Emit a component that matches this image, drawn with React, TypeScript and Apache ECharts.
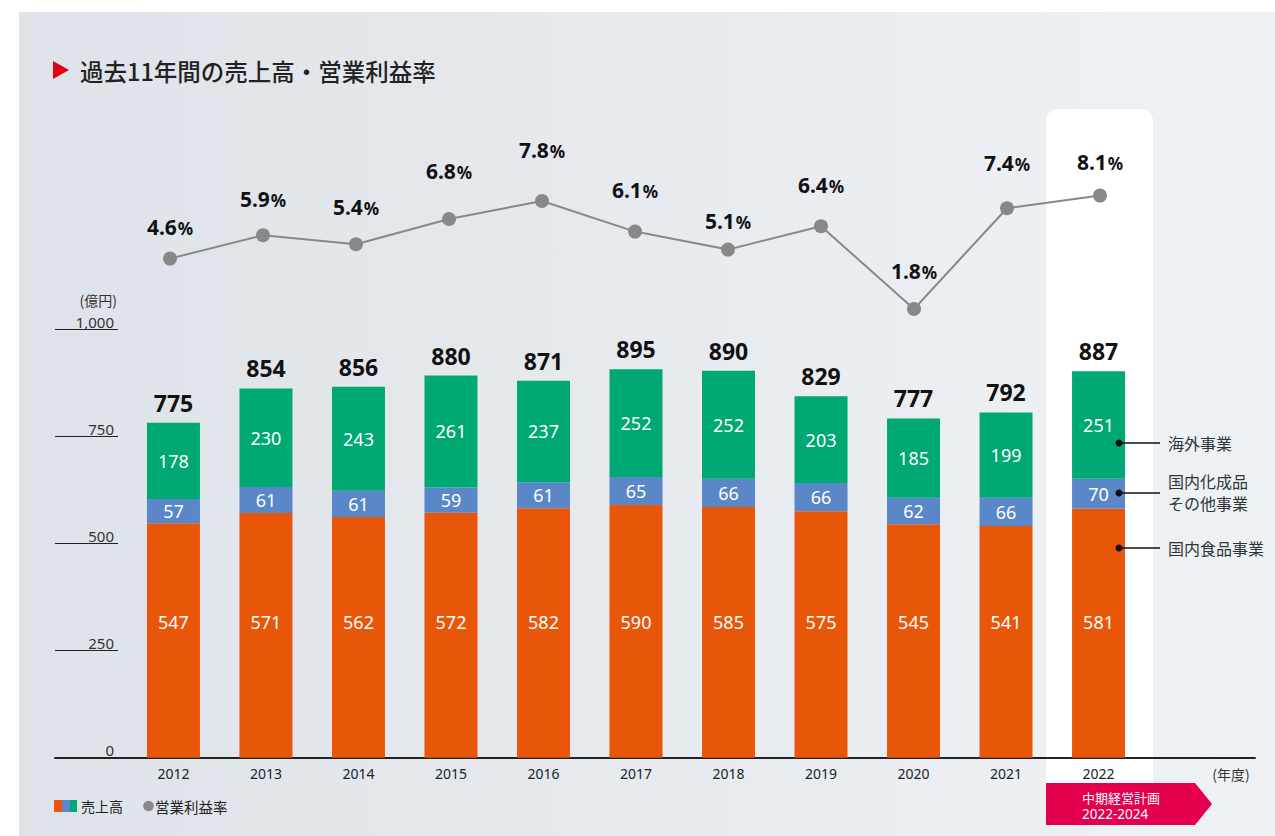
import React, { useEffect, useRef } from "react";
import * as echarts from "echarts";

// ---- data ----
const years = ["2012", "2013", "2014", "2015", "2016", "2017", "2018", "2019", "2020", "2021", "2022"];
const domesticFood = [547, 571, 562, 572, 582, 590, 585, 575, 545, 541, 581];
const chemicalsOther = [57, 61, 61, 59, 61, 65, 66, 66, 62, 66, 70];
const overseas = [178, 230, 243, 261, 237, 252, 252, 203, 185, 199, 251];
const totals = [775, 854, 856, 880, 871, 895, 890, 829, 777, 792, 887];
const operatingMargin = [4.6, 5.9, 5.4, 6.8, 7.8, 6.1, 5.1, 6.4, 1.8, 7.4, 8.1];
const yTickMax = 1000;
const yTickStep = 250;

// label lift (style) for the margin labels
const marginLabelLift = [14, 19, 20, 31, 34, 24, 11, 24, 21, 28, 16];

const ORANGE = "#E8560A";
const BLUE = "#5A87C7";
const GREEN = "#00A873";
const FONT = "'Noto Sans', 'Noto Sans CJK JP', sans-serif";
const JFONT = "'Noto Sans CJK JP', 'Noto Sans', sans-serif";

export default function App() {
  const ref = useRef<HTMLDivElement>(null);

  useEffect(() => {
    if (!ref.current) return;
    const chart = echarts.init(ref.current, undefined, { renderer: "svg" });
    const stackSums = years.map((_, i) => domesticFood[i] + chemicalsOther[i] + overseas[i]);

    const option: any = {
      animation: false,
      backgroundColor: "#ffffff",
      textStyle: { fontFamily: FONT },
      grid: [
        { left: 127.2, right: 130.2, top: 329.3, bottom: 78.3 },
        { left: 123.5, right: 128.5, top: 161.4, height: 180 },
        { left: 55, width: 63, top: 329.3, bottom: 78.3 },
        { left: 55, width: 1200, top: 329.3, bottom: 78.3 },
      ],
      xAxis: [
        {
          gridIndex: 0,
          type: "category",
          data: years,
          axisLine: { show: false },
          axisTick: { show: false },
          axisLabel: { color: "#222", fontSize: 14, margin: 9, fontFamily: FONT },
        },
        { gridIndex: 1, type: "category", data: years, show: false },
        { gridIndex: 2, type: "value", min: 0, max: 1, show: false },
        {
          gridIndex: 3,
          type: "value",
          min: 0,
          max: 1,
          axisLine: { show: true, onZero: false, lineStyle: { color: "#222", width: 2 } },
          axisTick: { show: false },
          axisLabel: { show: false },
          splitLine: { show: false },
        },
      ],
      yAxis: [
        { gridIndex: 0, type: "value", min: 0, max: yTickMax, interval: yTickStep, show: false },
        { gridIndex: 1, type: "value", min: 0, max: 10, show: false },
        {
          gridIndex: 2,
          type: "value",
          position: "right",
          min: 0,
          max: yTickMax,
          interval: yTickStep,
          axisLine: { show: false },
          axisTick: { show: false },
          axisLabel: {
            inside: true,
            align: "right",
            verticalAlign: "bottom",
            margin: 4,
            color: "#333",
            fontSize: 15,
            fontFamily: FONT,
            formatter: (v: number) => v.toLocaleString("en-US"),
          },
          splitLine: { show: true, lineStyle: { color: "#222", width: 1 } },
        },
        { gridIndex: 3, type: "value", min: 0, max: yTickMax, show: false },
      ],
      graphic: [
        {
          type: "rect",
          z: -100,
          shape: { x: 19, y: 12, width: 1256, height: 824 },
          style: {
            fill: new echarts.graphic.LinearGradient(0, 0, 1, 0, [
              { offset: 0, color: "#dee3e9" },
              { offset: 1, color: "#eff2f5" },
            ]),
          },
        },
        {
          type: "rect",
          z: -50,
          shape: { x: 1046, y: 109, width: 107, height: 680, r: [12, 12, 0, 0] },
          style: { fill: "#ffffff" },
        },
        // title
        {
          type: "polygon",
          shape: { points: [[53, 61], [69, 70], [53, 79]] },
          style: { fill: "#E60012" },
        },
        {
          type: "text",
          x: 80,
          y: 71,
          style: {
            text: "過去11年間の売上高・営業利益率",
            fontFamily: JFONT,
            fontSize: 23.5,
            fontWeight: 500,
            fill: "#222",
            verticalAlign: "middle",
          },
        },
        // unit label
        {
          type: "text",
          x: 117,
          y: 300,
          style: { text: "(億円)", fontFamily: JFONT, fontSize: 14, fill: "#333", align: "right", verticalAlign: "middle" },
        },
        // year unit
        {
          type: "text",
          x: 1231,
          y: 774,
          style: { text: "(年度)", fontFamily: JFONT, fontSize: 14, fill: "#333", align: "center", verticalAlign: "middle" },
        },
        // mid-term plan badge
        {
          type: "polygon",
          shape: { points: [[1046, 783], [1195, 783], [1212, 804], [1195, 825], [1046, 825]] },
          style: { fill: "#E4004F" },
        },
        {
          type: "text",
          x: 1082,
          y: 797,
          style: { text: "中期経営計画", fontFamily: JFONT, fontSize: 13, fill: "#fff", verticalAlign: "middle" },
        },
        {
          type: "text",
          x: 1082,
          y: 813.5,
          style: { text: "2022-2024", fontFamily: FONT, fontSize: 13.5, fill: "#fff", verticalAlign: "middle" },
        },
        // segment annotations
        ...[
          [443, "海外事業", 443],
          [493, "国内化成品\nその他事業", 492],
          [548, "国内食品事業", 548],
        ].flatMap(([y, t, ty]: any) => [
          { type: "line", z: 120, shape: { x1: 1119, y1: y, x2: 1160, y2: y }, style: { stroke: "#111", lineWidth: 1.3 } },
          { type: "circle", z: 120, shape: { cx: 1119, cy: y, r: 3.5 }, style: { fill: "#111" } },
          {
            type: "text",
            x: 1168,
            y: ty,
            style: { text: t, fontFamily: JFONT, fontSize: 16, fill: "#333", verticalAlign: "middle", lineHeight: 22 },
          },
        ]),
        // legend
        { type: "rect", shape: { x: 54, y: 800, width: 8, height: 12 }, style: { fill: ORANGE } },
        { type: "rect", shape: { x: 62, y: 800, width: 8, height: 12 }, style: { fill: BLUE } },
        { type: "rect", shape: { x: 70, y: 800, width: 7, height: 12 }, style: { fill: GREEN } },
        {
          type: "text",
          x: 81,
          y: 806,
          style: { text: "売上高", fontFamily: JFONT, fontSize: 14, fill: "#222", verticalAlign: "middle" },
        },
        { type: "circle", shape: { cx: 148.5, cy: 806, r: 5.3 }, style: { fill: "#888" } },
        {
          type: "text",
          x: 155,
          y: 806,
          style: { text: "営業利益率", fontFamily: JFONT, fontSize: 14.5, fill: "#222", verticalAlign: "middle" },
        },
      ],
      series: [
        {
          name: "国内食品事業",
          type: "bar",
          stack: "sales",
          xAxisIndex: 0,
          yAxisIndex: 0,
          barWidth: 53,
          data: domesticFood,
          itemStyle: { color: ORANGE },
          label: {
            show: true,
            position: "insideBottom",
            distance: 127,
            color: "#fff",
            fontSize: 18,
            fontFamily: FONT,
          },
        },
        {
          name: "国内化成品その他事業",
          type: "bar",
          stack: "sales",
          xAxisIndex: 0,
          yAxisIndex: 0,
          barWidth: 53,
          data: chemicalsOther,
          itemStyle: { color: BLUE },
          label: { show: true, position: "inside", color: "#fff", fontSize: 18, fontFamily: FONT },
        },
        {
          name: "海外事業",
          type: "bar",
          stack: "sales",
          xAxisIndex: 0,
          yAxisIndex: 0,
          barWidth: 53,
          data: overseas,
          itemStyle: { color: GREEN },
          label: { show: true, position: "inside", color: "#fff", fontSize: 18, fontFamily: FONT },
        },
        {
          name: "売上高",
          type: "line",
          xAxisIndex: 0,
          yAxisIndex: 0,
          data: stackSums,
          symbol: "circle",
          symbolSize: 1,
          silent: true,
          lineStyle: { width: 0, opacity: 0 },
          itemStyle: { color: "rgba(0,0,0,0)" },
          label: {
            show: true,
            position: "top",
            distance: 8,
            color: "#111",
            fontSize: 23,
            fontWeight: "bold",
            fontFamily: FONT,
            formatter: (p: any) => String(totals[p.dataIndex]),
          },
          z: 5,
        },
        {
          name: "営業利益率",
          type: "line",
          xAxisIndex: 1,
          yAxisIndex: 1,
          data: operatingMargin.map((v, i) => ({ value: v, label: { distance: marginLabelLift[i] } })),
          symbol: "circle",
          symbolSize: 14,
          lineStyle: { color: "#888", width: 2 },
          itemStyle: { color: "#888" },
          label: {
            show: true,
            position: "top",
            formatter: (p: any) => `{n|${p.value.toFixed(1)}}{p|%}`,
            rich: {
              n: { fontSize: 21, fontWeight: "bold", color: "#111", fontFamily: FONT },
              p: { fontSize: 17, fontWeight: "bold", color: "#111", fontFamily: FONT, padding: [3, 0, 0, 1] },
            },
          },
        },
      ],
    };

    chart.setOption(option);
    return () => chart.dispose();
  }, []);

  return (
    <div
      ref={ref}
      style={{ position: "fixed", left: 0, top: 0, width: 1275, height: 836, background: "#fff" }}
    />
  );
}
